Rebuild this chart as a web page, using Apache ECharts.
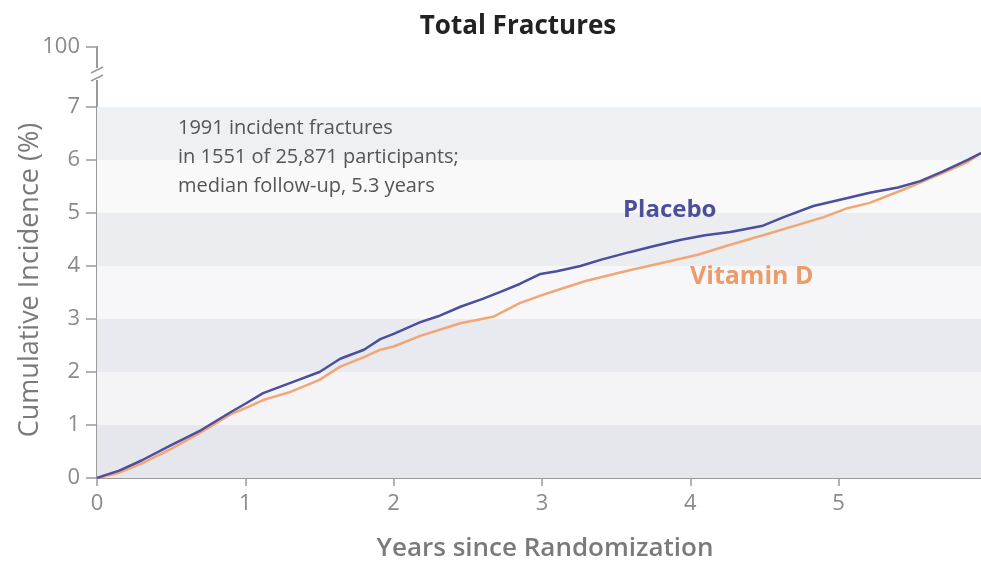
<!DOCTYPE html>
<html>
<head>
<meta charset="utf-8">
<title>Total Fractures</title>
<script src="https://cdn.jsdelivr.net/npm/echarts@6/dist/echarts.min.js"></script>
<style>
  html, body { margin: 0; padding: 0; background: #fff; }
  #main { width: 981px; height: 565px; }
</style>
</head>
<body>
<div id="main"></div>
<script>
// data (years since randomization, cumulative %)
var placeboYears = [0, 0.05, 0.15, 0.3, 0.5, 0.7, 0.9, 1.0, 1.12, 1.3, 1.5, 1.64, 1.8, 1.91, 2.0, 2.18, 2.3, 2.45, 2.6, 2.72, 2.85, 2.99, 3.1, 3.26, 3.4, 3.59, 3.75, 3.93, 4.1, 4.27, 4.49, 4.63, 4.83, 5.06, 5.21, 5.4, 5.55, 5.7, 5.87, 5.96];
var placeboPct   = [0, 0.05, 0.14, 0.33, 0.62, 0.9, 1.24, 1.4, 1.6, 1.79, 2.0, 2.25, 2.42, 2.62, 2.72, 2.94, 3.05, 3.23, 3.38, 3.51, 3.66, 3.85, 3.9, 4.0, 4.12, 4.26, 4.37, 4.49, 4.58, 4.64, 4.76, 4.92, 5.13, 5.28, 5.38, 5.48, 5.6, 5.78, 6.0, 6.13];
var vitDYears = [0, 0.05, 0.15, 0.3, 0.5, 0.7, 0.9, 1.0, 1.12, 1.3, 1.5, 1.64, 1.8, 1.91, 2.0, 2.18, 2.45, 2.67, 2.85, 3.0, 3.12, 3.3, 3.59, 3.8, 4.05, 4.27, 4.49, 4.72, 4.9, 5.06, 5.21, 5.4, 5.55, 5.7, 5.87, 5.96];
var vitDPct   = [0, 0.03, 0.1, 0.27, 0.55, 0.86, 1.2, 1.32, 1.47, 1.62, 1.85, 2.1, 2.28, 2.42, 2.48, 2.68, 2.92, 3.04, 3.3, 3.45, 3.56, 3.72, 3.92, 4.05, 4.21, 4.4, 4.58, 4.77, 4.92, 5.09, 5.19, 5.4, 5.57, 5.75, 5.96, 6.13];

// y axis: 0..7 then a break up to 100 (drawn at 8.13)
var yTickValues = [0, 1, 2, 3, 4, 5, 6, 7, 8.13];
var yTickLabels = ['0', '1', '2', '3', '4', '5', '6', '7', '100'];
var xTickValues = [0, 1, 2, 3, 4, 5];
var bandRanges = [[0, 1], [1, 2], [2, 3], [3, 4], [4, 5], [5, 6], [6, 7]];
var bandColors = ['#e6e7ed', '#f4f4f7', '#e9eaef', '#f7f7f9', '#ebedf1', '#f9f9fa', '#eef1f4'];

var grayTxt = '#8a8a8a';
var font = '"Open Sans", sans-serif';

function pairs(xs, ys) {
    return xs.map(function (x, i) { return [x, ys[i]]; });
}

var myChart = echarts.init(document.getElementById('main'));
var option = {
    animation: false,
    backgroundColor: '#fff',
    title: {
        text: 'Total Fractures',
        left: 513,
        top: 9,
        textAlign: 'center',
        textStyle: { fontFamily: font, fontSize: 26, fontWeight: 'bold', color: '#222' }
    },
    grid: { left: 97, right: 0, top: 47, bottom: 87, outerBoundsMode: 'none' },
    xAxis: {
        type: 'value',
        min: 0,
        max: 5.96,
        interval: 1,
        name: 'Years since Randomization',
        nameLocation: 'middle',
        nameGap: 58,
        nameTextStyle: { fontFamily: font, fontSize: 26, fontWeight: 600, color: '#7a7a7a', padding: [0, 0, 0, 12] },
        axisLine: { lineStyle: { color: '#9a9a9a', width: 2 } },
        axisTick: { customValues: xTickValues, length: 8, lineStyle: { color: '#9a9a9a', width: 1.5 } },
        axisLabel: { customValues: xTickValues, margin: 15, fontFamily: font, fontSize: 22, color: grayTxt },
        splitLine: { show: false }
    },
    yAxis: {
        type: 'value',
        min: 0,
        max: 8.13,
        axisLine: { show: true, lineStyle: { color: '#9a9a9a', width: 2 } },
        axisTick: { show: true, customValues: yTickValues, length: 11, lineStyle: { color: '#9a9a9a', width: 1.5 } },
        axisLabel: {
            customValues: yTickValues,
            margin: 17,
            fontFamily: font, fontSize: 22, color: grayTxt,
            formatter: function (v) {
                var i = yTickValues.indexOf(v);
                return i >= 0 ? yTickLabels[i] : '';
            }
        },
        splitLine: { show: false }
    },
    graphic: [
        {
            type: 'text', x: 30, y: 280, rotation: Math.PI / 2, z: 100,
            style: {
                text: 'Cumulative Incidence (%)', font: '27px ' + font, fill: '#7a7a7a',
                align: 'center', verticalAlign: 'middle'
            }
        },
        {
            type: 'text', left: 178, top: 114, z: 100,
            style: {
                text: '1991 incident fractures\nin 1551 of 25,871 participants;\nmedian follow-up, 5.3 years',
                font: '20px ' + font, fill: '#555', lineHeight: 29
            }
        },
        {
            type: 'text', left: 623, top: 198, z: 100,
            style: { text: 'Placebo', font: 'bold 24px ' + font, fill: '#4d4f9b' }
        },
        {
            type: 'text', left: 690, top: 264, z: 100,
            style: { text: 'Vitamin D', font: 'bold 25px ' + font, fill: '#eb9c6a' }
        }
    ],
    series: [
        {
            name: 'bands',
            type: 'line',
            data: [],
            silent: true,
            markArea: {
                silent: true,
                data: bandRanges.map(function (b, i) {
                    return [
                        { yAxis: b[0], itemStyle: { color: bandColors[i] } },
                        { yAxis: b[1] }
                    ];
                })
            }
        },
        {
            name: 'axis break',
            type: 'custom',
            clip: false,
            silent: true,
            z: 5,
            data: [[0, 7.62]],
            renderItem: function (params, api) {
                var p = api.coord([api.value(0), api.value(1)]);
                return {
                    type: 'group',
                    children: [
                        { type: 'rect', shape: { x: p[0] - 6, y: p[1] - 6, width: 12, height: 12 }, style: { fill: '#fff' } },
                        { type: 'line', shape: { x1: p[0] - 6, y1: p[1] - 1, x2: p[0] + 6, y2: p[1] - 7 }, style: { stroke: '#9a9a9a', lineWidth: 1.5 } },
                        { type: 'line', shape: { x1: p[0] - 6, y1: p[1] + 7, x2: p[0] + 6, y2: p[1] + 1 }, style: { stroke: '#9a9a9a', lineWidth: 1.5 } }
                    ]
                };
            }
        },
        {
            name: 'Vitamin D',
            type: 'line',
            showSymbol: false,
            z: 3,
            lineStyle: { color: '#f2a676', width: 2.5 },
            data: pairs(vitDYears, vitDPct)
        },
        {
            name: 'Placebo',
            type: 'line',
            showSymbol: false,
            z: 4,
            lineStyle: { color: '#4b4f9e', width: 2.5 },
            data: pairs(placeboYears, placeboPct)
        }
    ]
};
myChart.setOption(option);
</script>
</body>
</html>
